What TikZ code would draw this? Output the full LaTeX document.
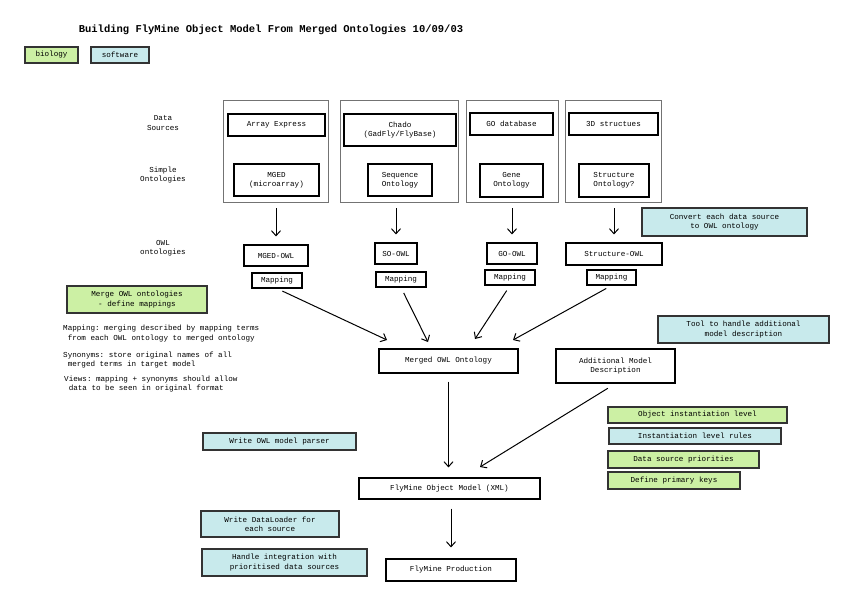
\documentclass[tikz,border=0pt]{standalone}
\usepackage{fontspec}
\setmonofont{Liberation Mono}
\usetikzlibrary{arrows.meta}
\definecolor{bio}{HTML}{CCF0A4}
\definecolor{soft}{HTML}{C8EAEC}
\begin{document}
\begin{tikzpicture}[x=1pt,y=-1pt,font=\ttfamily\fontsize{7.6}{9.4}\selectfont]
        \tikzstyle{every node}=[inner sep=0pt, align=center]
        \tikzstyle{box}=[draw, line width=1.1pt, minimum height=22pt]
        \tikzstyle{group}=[draw=black!55, line width=0.7pt, minimum height=102pt]
        \tikzstyle{biobox}=[box, fill=bio, draw=black!80, line width=1.3pt]
        \tikzstyle{softbox}=[box, fill=soft, draw=black!80, line width=1.3pt]
        \tikzstyle{flow}=[-{Straight Barb[length=5pt,width=9pt]}, line width=1pt]
        \useasboundingbox (0,0) rectangle (855,606);
        \node[font=\ttfamily\bfseries\fontsize{10.5}{12}\selectfont] (title) at (271,30) {Building FlyMine Object Model From Merged Ontologies 10/09/03};
        \node[biobox, minimum width=53pt, minimum height=16pt] (keybio) at (51.5,55) {biology};
        \node[softbox, minimum width=58pt, minimum height=16pt] (keysoft) at (120,55) {software};
        \node (lsrc) at (163,123) {Data\\Sources};
        \node (lsimple) at (163,175) {Simple\\Ontologies};
        \node (lowl) at (163,248) {OWL\\ontologies};
        \node[group, minimum width=105pt] (g1) at (275.5,151) {};
        \node[group, minimum width=118pt] (g2) at (399,151) {};
        \node[group, minimum width=92pt] (g3) at (512,151) {};
        \node[group, minimum width=96pt] (g4) at (613,151) {};
        \node[box, minimum width=97pt] (arrayexp) at (276.5,125) {Array Express};
        \node[box, minimum width=112pt, minimum height=32pt] (chado) at (400,130) {Chado\\(GadFly/FlyBase)};
        \node[box, minimum width=83pt] (godb) at (511.5,124) {GO database};
        \node[box, minimum width=89pt] (struc3d) at (613.5,124) {3D structues};
        \node[box, minimum width=85pt, minimum height=32pt] (mged) at (276.5,180) {MGED\\(microarray)};
        \node[box, minimum width=64pt, minimum height=32pt] (seqont) at (400,180) {Sequence\\Ontology};
        \node[box, minimum width=63pt, minimum height=33pt] (geneont) at (511.5,180.5) {Gene\\Ontology};
        \node[box, minimum width=70pt, minimum height=33pt] (strucont) at (614,180.5) {Structure\\Ontology?};
        \node[box, minimum width=64pt, minimum height=21pt] (mgedowl) at (276,255.5) {MGED-OWL};
        \node[box, minimum width=42pt, minimum height=21pt] (soowl) at (396,253.5) {SO-OWL};
        \node[box, minimum width=50pt, minimum height=21pt] (goowl) at (512,253.5) {GO-OWL};
        \node[box, minimum width=96pt] (strucowl) at (614,254) {Structure-OWL};
        \node[box, minimum width=50pt, minimum height=15pt] (mapmged) at (277,280.5) {Mapping};
        \node[box, minimum width=50pt, minimum height=15pt] (mapso) at (401,279.5) {Mapping};
        \node[box, minimum width=50pt, minimum height=15pt] (mapgo) at (510,277.5) {Mapping};
        \node[box, minimum width=49pt, minimum height=15pt] (mapstruc) at (611.5,277.5) {Mapping};
        \node[softbox, minimum width=165pt, minimum height=28pt] (convert) at (724.5,222) {Convert each data source\\to OWL ontology};
        \node[biobox, minimum width=140pt, minimum height=27pt] (mergeowl) at (137,299.5) {Merge OWL ontologies\\- define mappings};
        \node[anchor=west, align=left] (nmap) at (63,333.5) {Mapping: merging described by mapping terms\\\ from each OWL ontology to merged ontology};
        \node[anchor=west, align=left] (nsyn) at (63,360) {Synonyms: store original names of all\\\ merged terms in target model};
        \node[anchor=west, align=left] (nview) at (64,384) {Views: mapping + synonyms should allow\\\ data to be seen in original format};
        \node[box, minimum width=139pt, minimum height=24pt] (merged) at (448.5,361) {Merged OWL Ontology};
        \node[box, minimum width=119pt, minimum height=34pt] (addmodel) at (615.5,366) {Additional Model\\Description};
        \node[softbox, minimum width=171pt, minimum height=27pt] (tooladd) at (743.5,329.5) {Tool to handle additional\\model description};
        \node[biobox, minimum width=179pt, minimum height=16pt] (objinst) at (697.5,415) {Object instantiation level};
        \node[softbox, minimum width=172pt, minimum height=16pt] (instrules) at (695,436) {Instantiation level rules};
        \node[biobox, minimum width=151pt, minimum height=17pt] (dsprio) at (683.5,459.5) {Data source priorities};
        \node[biobox, minimum width=132pt, minimum height=17pt] (primkeys) at (674,480.5) {Define primary keys};
        \node[softbox, minimum width=153pt, minimum height=17pt] (parser) at (279.5,441.5) {Write OWL model parser};
        \node[box, minimum width=181pt, minimum height=21pt] (fmodel) at (449.5,488.5) {FlyMine Object Model (XML)};
        \node[softbox, minimum width=138pt, minimum height=26pt] (loader) at (270,524) {Write DataLoader for\\each source};
        \node[softbox, minimum width=165pt, minimum height=27pt] (integ) at (284.5,562.5) {Handle integration with\\prioritised data sources};
        \node[box, minimum width=130pt] (prod) at (451,570) {FlyMine Production};
        \coordinate (in1) at (387,340);
        \coordinate (in2) at (428,342);
        \coordinate (in3) at (475,339);
        \coordinate (in4) at (513,340);
        \coordinate (in5) at (480,467);
        \draw[flow, shorten <=6pt, shorten >=8pt] (g1.south -| mgedowl) -- (mgedowl);
        \draw[flow, shorten <=6pt, shorten >=8pt] (g2.south -| soowl) -- (soowl);
        \draw[flow, shorten <=6pt, shorten >=8pt] (g3.south) -- (goowl);
        \draw[flow, shorten <=6pt, shorten >=8pt] (g4.south -| strucowl) -- (strucowl);
        \draw[flow, shorten <=6pt] (mapmged.south) -- (in1);
        \draw[flow, shorten <=6pt] (mapso.south) -- (in2);
        \draw[flow, shorten <=6pt] (mapgo.south) -- (in3);
        \draw[flow, shorten <=6pt] (mapstruc.south) -- (in4);
        \draw[flow, shorten <=8pt, shorten >=10pt] (merged.south) -- (merged.south |- fmodel.north);
        \draw[flow, shorten <=9pt] (addmodel.south) -- (in5);
        \draw[flow, shorten <=9pt, shorten >=11pt] (fmodel.south -| prod) -- (prod);
    \end{tikzpicture}
\end{document}
